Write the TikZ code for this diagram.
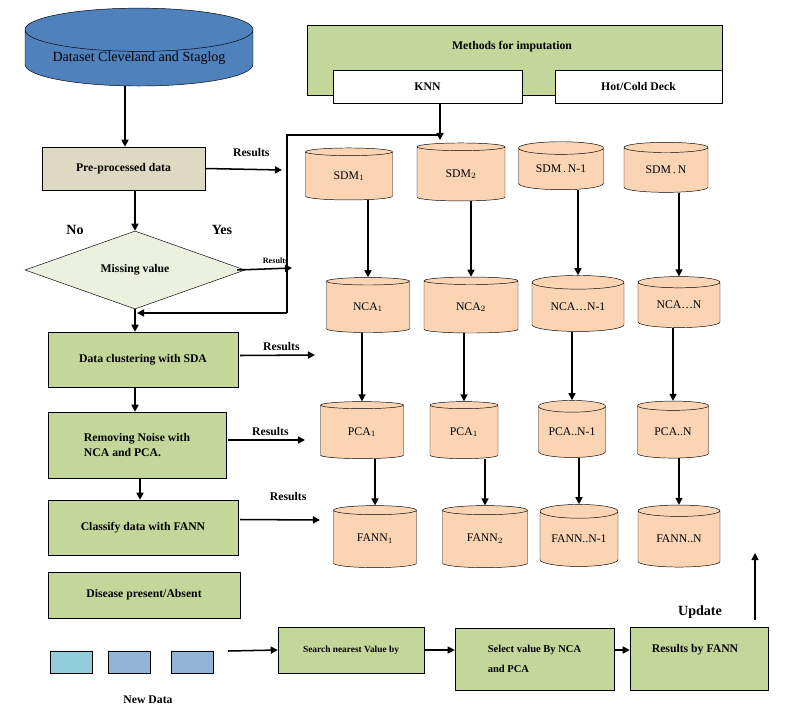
\documentclass[tikz,border=0pt]{standalone}
\usepackage{fontspec}
\setmainfont{Liberation Serif}
\usetikzlibrary{shapes.geometric,arrows.meta}
\definecolor{boxgreen}{HTML}{C4D79B}
\definecolor{lightgreen}{HTML}{EBF1DE}
\definecolor{peach}{HTML}{FBD4B4}
\definecolor{tan}{HTML}{DDD9C3}
\definecolor{dbblue}{HTML}{4F81BD}
\definecolor{newblue}{HTML}{95B3D7}
\definecolor{newcyan}{HTML}{92CDDC}
\begin{document}
\begin{tikzpicture}[x=0.03cm,y=-0.03cm]

      \tikzset{box/.style={draw, rectangle, fill=boxgreen, font=\bfseries, inner sep=2pt},
               db/.style={draw, cylinder, shape border rotate=90, aspect=0.25, fill=peach, font=\normalsize, inner sep=0pt},
               arr/.style={-{Triangle[length=6pt,width=6pt]}, line width=1.3pt},
               lbl/.style={font=\bfseries}}
      \useasboundingbox (0,0) rectangle (800,718);
% Left column
	%Dataset
      	\node[db, fill=dbblue, minimum height=75*0.03cm, minimum width=228*0.03cm, font=\large] (data) at (139,58) {Dataset Cleveland and Staglog};
      	\node[box, fill=tan, minimum width=163*0.03cm, minimum height=43*0.03cm] (pre) at (123.5,168.5) {Pre-processed data};
    	\node[draw, diamond, fill=lightgreen, aspect=2.8, minimum width=220*0.03cm, minimum height=78*0.03cm, inner sep=0pt, font=\bfseries] (miss) at (135,270) {Missing value};
  	    \node[box, minimum width=190*0.03cm, minimum height=55*0.03cm] (clus) at (143,359.5) {Data clustering with SDA};
  	    \node[box, minimum width=178*0.03cm, minimum height=66*0.03cm, align=left] (noise) at (137,445) {Removing Noise with\\NCA and PCA.};
  	    \node[box, minimum width=190*0.03cm, minimum height=55*0.03cm] (cls) at (143,527.5) {Classify data with FANN};
  	    \node[box, minimum width=192*0.03cm, minimum height=46*0.03cm] (dis) at (144,595) {Disease present/Absent};
  	    \node[lbl, font=\bfseries\large] (no) at (75,230) {No};
  	    \node[lbl, font=\bfseries\large] (yes) at (222,230) {Yes};
	%Methods
		\node[box, minimum width=415*0.03cm, minimum height=70*0.03cm] (meth) at (514.5,60) {};
		\node[lbl] (methl) at (512,47) {Methods for imputation};
		\node[box, fill=white, minimum width=189*0.03cm, minimum height=33*0.03cm] (knn) at (427.5,86.5) {KNN};
		\node[box, fill=white, minimum width=167*0.03cm, minimum height=33*0.03cm] (deck) at (638.5,86.5) {Hot/Cold Deck};
	%Cylinders
		\foreach \n/\x/\y/\w/\h/\t in {s1/349/176/87/52/{SDM$_1$}, s2/461/174/88/58/{SDM$_2$}, s3/561/169/85/48/{SDM\,.\,N-1}, s4/666/170/84/50/{SDM\,.\,N},
		    n1/368/307/83/55/{NCA$_1$}, n2/471/307/94/56/{NCA$_2$}, n3/578/307/92/56/{NCA\ldots N-1}, n4/679/305/82/51/{NCA\ldots N},
		    p1/362/432/83/57/{PCA$_1$}, p2/464/432/68/57/{PCA$_1$}, p3/572/432/67/57/{PCA..N-1}, p4/673/432/71/57/{PCA..N},
		    f1/375/539/83/62/{FANN$_1$}, f2/485/539/85/62/{FANN$_2$}, f3/579/539/78/62/{FANN..N-1}, f4/679/539/82/62/{FANN..N}}
			\node[db, minimum width=\w*0.03cm, minimum height=\h*0.03cm] (\n) at (\x,\y) {\t};
	%Bottom
		\node[db, fill=newcyan, aspect=0.7, minimum width=42*0.03cm, minimum height=22*0.03cm] (nd1) at (71,662) {};
		\node[db, fill=newblue, aspect=0.7, minimum width=42*0.03cm, minimum height=22*0.03cm] (nd2) at (129,662) {};
		\node[db, fill=newblue, aspect=0.7, minimum width=42*0.03cm, minimum height=22*0.03cm] (nd3) at (192,662) {};
		\node[lbl] (newd) at (148,700) {New Data};
		\node[box, minimum width=146*0.03cm, minimum height=46*0.03cm, font=\bfseries\footnotesize] (srch) at (351,650) {Search nearest Value by};
		\node[box, minimum width=159*0.03cm, minimum height=62*0.03cm, align=left, font=\bfseries\small] (sel) at (534.5,659) {Select value By NCA\\[6pt]and PCA};
		\node[box, minimum width=138*0.03cm, minimum height=63*0.03cm] (res) at (699,658.5) {};
		\node[lbl] (resl) at (695,650) {Results by FANN};
		\node[lbl, font=\bfseries\large] (upd) at (700,612) {Update};
		\coordinate (c1) at (287,135);
		\coordinate (c2) at (287,313);
%Edges
		\draw[arr] (data.south -| 125,0) -- (pre.north -| 125,0);
		\draw[arr] (pre.south -| 135,0) -- (miss);
		\draw[arr] (miss) -- (clus.north -| 135,0);
		\draw[arr] (clus.south -| 135,0) -- (noise.north -| 135,0);
		\draw[arr] (noise.south -| 140,0) -- (cls.north -| 140,0);
		\draw[arr] (pre.east) -- (282,170) node[lbl, pos=0.6, above=7pt] {Results};
		\draw[arr] (miss.east) ++(-8,0) -- (292,268) node[font=\bfseries\scriptsize, pos=0.7, above] {Results};
		\draw[arr] (clus.east) ++(2,-4) -- (315,355) node[lbl, pos=0.55, above] {Results};
		\draw[arr] (noise.east) ++(2,-5) -- (305,440) node[lbl, pos=0.55, above] {Results};
		\draw[arr] (cls.east) ++(2,-8) -- (320,520) node[lbl, pos=0.6, above=12pt] {Results};
		\draw[line width=1pt] (c2) -- (c1) -- (440,135);
		\draw[arr] (knn.south -| 440,0) -- (440,140);
		\draw[arr] (c2) -- (137,313);
		\foreach \a/\b/\c/\d in {s1/n1/p1/f1, s2/n2/p2/f2, s3/n3/p3/f3, s4/n4/p4/f4} {
			\draw[arr] (\a.south -| \b.north) -- (\b.north);
			\draw[arr] (\b.south -| \c.north) -- (\c.north);
			\draw[arr] (\c.south -| \d.north) -- (\d.north);
		}
		\draw[arr] (228,651) -- (srch.west);
		\draw[arr] (srch.east) -- (sel.west |- srch.east);
		\draw[arr] (sel.east |- srch.east) -- (res.west |- srch.east);
		\draw[-{Triangle[length=6pt,width=6pt]}, line width=1pt] (755,620) -- (755,553);

	\end{tikzpicture}
\end{document}
